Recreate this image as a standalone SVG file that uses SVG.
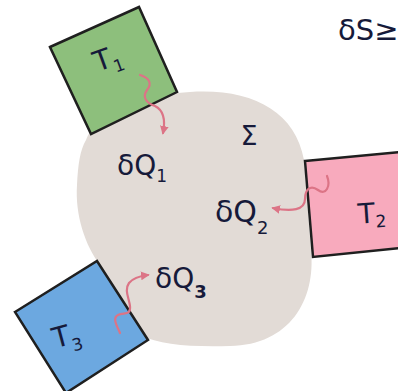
<svg xmlns="http://www.w3.org/2000/svg" width="398" height="391" viewBox="0 0 398 391">
<style>
.box{stroke:#1f1f1f;stroke-width:2.5;stroke-linejoin:miter}
.lbl{font-family:"DejaVu Sans","Liberation Sans",sans-serif;fill:#161a3a}
.heat{fill:none;stroke:#dc7486;stroke-width:2.2;stroke-linecap:round;stroke-linejoin:round}
</style>
<defs>
<marker id="ah" viewBox="0 0 10 10" refX="8" refY="5" markerWidth="4" markerHeight="4" orient="auto">
<path d="M0,0 L10,5 L0,10 Z" fill="#dc7486"/>
</marker>
</defs>
<g id="system">
<path d="M 86,140 C 95,115 140,95 190,92 C 250,88 295,110 304,160 L 311,250 C 316,300 290,345 230,346 C 190,347 160,345 140,335 L 100,265 C 85,245 75,215 77,185 C 78,165 80,150 86,140 Z" fill="#e2dbd6"/>
<text class="lbl" x="249" y="145" font-size="27" text-anchor="middle">Σ</text>
</g>
<g id="T1">
<polygon class="box" points="50,47 139,7 177,92 91,134" fill="#8dbf7c"/>
<text class="lbl" x="94" y="72" font-size="28" transform="rotate(-20 96 62)">T<tspan font-size="17" dy="7">1</tspan></text>
</g>
<g id="T2">
<polygon class="box" points="305,161 400,152 400,248 313,257" fill="#f8aabd"/>
<text class="lbl" x="358" y="223" font-size="28" transform="rotate(-4 370 215)">T<tspan font-size="17" dy="5">2</tspan></text>
</g>
<g id="T3">
<polygon class="box" points="15,312 97,261 148,340 66,393" fill="#6ca8e0"/>
<text class="lbl" x="52" y="346" font-size="28" transform="rotate(-15 62 335)">T<tspan font-size="17" dy="8">3</tspan></text>
</g>
<g id="labels">
<text class="lbl" x="117" y="175" font-size="28">δQ<tspan font-size="17" dy="7">1</tspan></text>
<text class="lbl" x="215" y="222" font-size="30">δQ<tspan font-size="18" dy="12">2</tspan></text>
<text class="lbl" x="155" y="288" font-size="28">δQ<tspan font-size="18" dy="10" font-weight="bold">3</tspan></text>
<text class="lbl" x="338" y="40" font-size="29">δS≥</text>
</g>
<g id="connectors">
<path class="heat" marker-end="url(#ah)" d="M 140,75 C 150,78 152,84 147,90 C 142,97 146,103 155,106 C 163,110 166,118 163,133"/>
<path class="heat" marker-end="url(#ah)" d="M 327,176 C 331,186 326,196 318,190 C 310,184 305,190 305,199 C 305,210 292,212 273,208"/>
<path class="heat" marker-end="url(#ah)" d="M 120,333 C 117,326 112,318 118,315 C 124,312 131,316 130,306 C 129,298 124,290 129,283 C 133,278 140,276 148,275"/>
</g>
</svg>
